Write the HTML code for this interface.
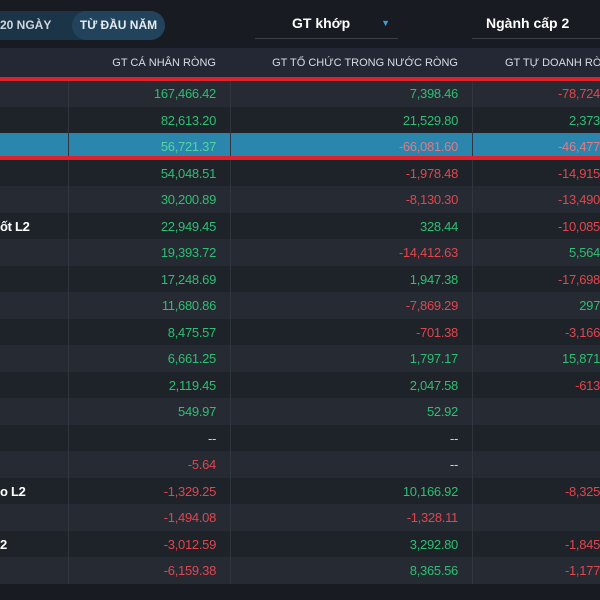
<!DOCTYPE html>
<html><head><meta charset="utf-8"><style>
body{margin:0;width:600px;height:600px;overflow:hidden;background:#181b21;font-family:"Liberation Sans",sans-serif;position:relative}
.a{position:absolute}
.row{position:absolute;left:0;width:600px;height:27px}
.c{position:absolute;font-size:13px;line-height:27px;text-align:right;letter-spacing:-0.3px}
.g{color:#2fbf71}.r{color:#e0464e}.w{color:#fff}
.vl{position:absolute;top:0;width:1px;height:100%;background:#30353f}
</style></head><body>
<div class="a" style="left:-30px;top:11px;width:195px;height:29px;border-radius:15px;background:#1b3447"></div>
<div class="a" style="left:0;top:11px;width:70px;height:29px;line-height:29px;color:#cfd6de;font-size:12px;font-weight:bold">20 NGÀY</div>
<div class="a" style="left:72px;top:11px;width:93px;height:29px;border-radius:15px;background:#21435b;line-height:29px;text-align:center;color:#e6ecf2;font-size:12px;font-weight:bold">TỪ ĐẦU NĂM</div>
<div class="a" style="left:255px;top:9px;width:143px;height:30px;border-bottom:1px solid #3a3f48;color:#fff;font-size:14px;font-weight:bold;line-height:28px;padding-left:37px;box-sizing:border-box">GT khớp<span style="position:absolute;right:8px;top:0;color:#3ba0d8;font-size:9px">▼</span></div>
<div class="a" style="left:472px;top:9px;width:140px;height:30px;border-bottom:1px solid #3a3f48;color:#fff;font-size:14px;font-weight:bold;line-height:28px;padding-left:14px;box-sizing:border-box">Ngành cấp 2</div>
<div class="a" style="left:0;top:48px;width:600px;height:30px;background:#232834"></div>
<div class="a w" style="left:60px;top:48px;width:156px;line-height:30px;text-align:right;font-size:11px;color:#d8dde4">GT CÁ NHÂN RÒNG</div>
<div class="a w" style="left:240px;top:48px;width:218px;line-height:30px;text-align:right;font-size:11px;color:#d8dde4">GT TỔ CHỨC TRONG NƯỚC RÒNG</div>
<div class="a w" style="left:480px;top:48px;width:200px;line-height:30px;text-align:left;padding-left:25px;font-size:11px;color:#d8dde4">GT TỰ DOANH RÒNG</div>
<div id="tb"></div>
<div class="a" style="left:0;top:77px;width:600px;height:4px;background:#e0202a"></div>
<div class="a" style="left:0;top:156px;width:600px;height:4px;background:#e0202a"></div>
<script>
const labels=["","","","","","ốt L2","","","","","","","","","","o L2","","2",""];
const caNhan=["167,466.42","82,613.20","56,721.37","54,048.51","30,200.89","22,949.45","19,393.72","17,248.69","11,680.86","8,475.57","6,661.25","2,119.45","549.97","--","-5.64","-1,329.25","-1,494.08","-3,012.59","-6,159.38"];
const toChuc=["7,398.46","21,529.80","-66,081.60","-1,978.48","-8,130.30","328.44","-14,412.63","1,947.38","-7,869.29","-701.38","1,797.17","2,047.58","52.92","--","--","10,166.92","-1,328.11","3,292.80","8,365.56"];
const tuDoanh=["-78,724","2,373","-46,477","-14,915","-13,490","-10,085","5,564","-17,698","297","-3,166","15,871","-613","","","","-8,325","","-1,845","-1,177"];
const tb=document.getElementById('tb');
function cls(v){return v.startsWith('--')?'w':(v.startsWith('-')?'r':'g');}
caNhan.forEach((v,i)=>{
 const r=document.createElement('div');r.className='row';
 
 
 r.style.top=(80+i*26.5)+'px';
 r.style.background=i==2?'#2a86ad':(i%2==0?'#252a33':'#1e2229');
 r.innerHTML='<div class="vl" style="left:68px"></div><div class="vl" style="left:230px"></div><div class="vl" style="left:472px"></div>';
 const l=document.createElement('div');l.className='c w';
 
 
 l.style.left='0';l.style.textAlign='left';l.style.fontWeight='bold';l.textContent=labels[i];r.appendChild(l);
 [[v,60,156],[toChuc[i],240,218],[tuDoanh[i],480,120]].forEach((c,j)=>{
  const d=document.createElement('div');d.className='c '+cls(c[0]);
  
  
  d.style.left=c[1]+'px';d.style.width=c[2]+'px';
  if(c[0]==='--'){d.style.color='#cfd3d8';}
  if(i==2){d.style.color=c[0].startsWith('-')?'#e07a84':'#4fd6a0';}
  d.textContent=c[0];r.appendChild(d);
 });
 tb.appendChild(r);
});
</script>
</body></html>
